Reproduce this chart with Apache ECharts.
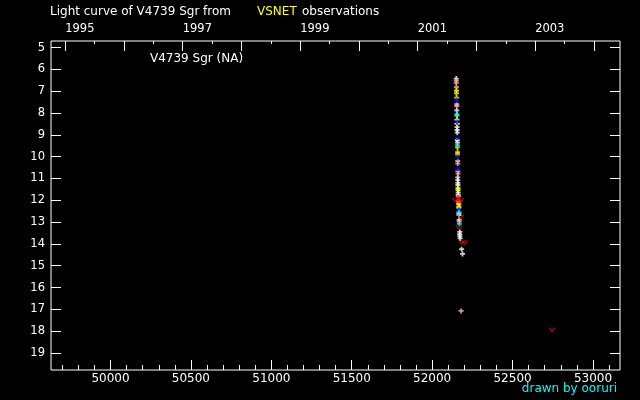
<!DOCTYPE html>
<html lang="en">
<head>
    <meta charset="UTF-8">
    <title>V4739 Sgr</title>
    <script src="https://cdn.jsdelivr.net/npm/echarts@6/dist/echarts.min.js"></script>
    <style>
        html, body { margin: 0; padding: 0; background: #000; }
    </style>
</head>
<body>
    <div id="main" style="width: 640px;height:400px;"></div>
    <script type="text/javascript">
        // JD - 2400000 , magnitude
        var whiteObs = [[52150, 6.42], [52153, 7.88], [52154, 8.3], [52155, 8.65], [52155, 8.78], [52156, 8.9],
            [52156, 9.25], [52157, 9.36], [52159, 10.95], [52159, 11.08], [52160, 11.2], [52160, 11.3],
            [52161, 11.55], [52162, 11.65], [52162, 11.75], [52165, 12.15], [52166, 12.6], [52167, 12.68],
            [52168, 12.9], [52172, 13.45], [52171, 13.55], [52172, 13.65], [52174, 13.75], [52183, 14.24], [52189, 14.46]];
        var pinkObs = [[52150, 6.52], [52150, 6.62], [52151, 6.82], [52153, 7.6], [52153, 7.68], [52156, 8.48],
            [52159, 10.2], [52159, 10.32], [52160, 10.68], [52161, 10.78], [52163, 11.82], [52165, 12.35],
            [52168, 12.98], [52180, 17.07]];
        var yellowObs = [[52151, 6.98], [52151, 7.1], [52152, 7.3], [52154, 8.12], [52155, 8.5], [52157, 9.58],
            [52158, 9.8], [52158, 9.9], [52160, 11.42], [52161, 11.48], [52164, 12.05], [52166, 12.2], [52166, 12.3]];
        var blueObs = [[52152, 7.42], [52155, 8.42], [52156, 9.12], [52158, 10.02], [52159, 10.55], [52166, 12.45]];
        var cyanObs = [[52154, 8.05], [52157, 9.47], [52167, 12.55], [52169, 13.08]];
        var redObs = [[52161, 11.88], [52165, 12.02]];
        // fainter-than observations
        var redLimits = [[52144, 12.0], [52178, 12.02], [52178, 12.78], [52165, 13.25],
            [52184, 13.95], [52203, 13.95], [52745, 17.95]];

        var dayLabels = [50000, 50500, 51000, 51500, 52000, 52500, 53000];
        var yearTicks = [1995, 1996, 1997, 1998, 1999, 2000, 2001, 2002, 2003, 2004];
        var yearLabels = [1995, 1997, 1999, 2001, 2003];
        var magTicks = [5, 6, 7, 8, 9, 10, 11, 12, 13, 14, 15, 16, 17, 18, 19];

        var dayMin = 49630, dayMax = 53168;
        // 1995-01-01 = JD 2449718.5
        function toYear(d) { return 1995 + (d - 49718.5) / 365.25; }
        var dayMinor = [];
        for (var d = 49700; d <= 53100; d += 100) dayMinor.push(d);
        var yearMinor = [];
        for (var i = 0; i < yearTicks.length - 1; i++) yearMinor.push(yearTicks[i] + 0.5);

        var font = '"DejaVu Sans", sans-serif';
        var cross = 'path://M1.6,0L3.4,0L3.4,1.6L5,1.6L5,3.4L3.4,3.4L3.4,5L1.6,5L1.6,3.4L0,3.4L0,1.6L1.6,1.6Z';
        var vee = 'path://M0,0L1.4,0L3.5,3L5.6,0L7,0L3.5,5Z';

        function plain(v) { return String(v); }

        function obs(data, color, sym, size) {
            return {
                type: 'scatter', data: data, symbol: sym, symbolSize: size,
                itemStyle: {color: color}, silent: true, animation: false
            };
        }

        var myChart = echarts.init(document.getElementById('main'));
        var option = {
            backgroundColor: '#000',
            animation: false,
            grid: {
                left: 51, top: 41, width: 569, height: 329,
                show: true, borderColor: '#fff', borderWidth: 1
            },
            graphic: [
                {type: 'text', left: 50, top: 6, style: {text: 'Light curve of V4739 Sgr from', fill: '#fff', font: '12px ' + font}},
                {type: 'text', left: 257, top: 6, style: {text: 'VSNET', fill: '#ffff00', font: '12px ' + font}},
                {type: 'text', left: 302, top: 6, style: {text: 'observations', fill: '#fff', font: '12px ' + font}},
                {type: 'text', left: 150, top: 53, style: {text: 'V4739 Sgr (NA)', fill: '#fff', font: '12px ' + font}},
                {type: 'text', right: 23, top: 383, style: {text: 'drawn by ooruri', fill: '#00ffff', font: '12px ' + font}}
            ],
            xAxis: [
                { // JD ticks
                    type: 'value', position: 'bottom', min: dayMin, max: dayMax,
                    axisLine: {show: false, onZero: false}, splitLine: {show: false},
                    axisTick: {inside: true, length: 10, customValues: dayLabels, lineStyle: {color: '#fff'}},
                    axisLabel: {customValues: dayLabels, color: '#fff', fontSize: 12, fontFamily: font,
                        margin: 3, formatter: plain}
                },
                {
                    type: 'value', position: 'bottom', min: dayMin, max: dayMax,
                    axisLine: {show: false, onZero: false}, splitLine: {show: false},
                    axisTick: {inside: true, length: 5, customValues: dayMinor, lineStyle: {color: '#fff'}},
                    axisLabel: {show: false}
                },
                { // calendar years
                    type: 'value', position: 'top', min: toYear(dayMin), max: toYear(dayMax),
                    axisLine: {show: false, onZero: false}, splitLine: {show: false},
                    axisTick: {inside: true, length: 10, customValues: yearTicks, lineStyle: {color: '#fff'}},
                    axisLabel: {customValues: yearLabels, color: '#fff', fontSize: 11.5, fontFamily: font,
                        margin: 6, align: 'left', formatter: plain}
                },
                {
                    type: 'value', position: 'top', min: toYear(dayMin), max: toYear(dayMax),
                    axisLine: {show: false, onZero: false}, splitLine: {show: false},
                    axisTick: {inside: true, length: 3, customValues: yearMinor, lineStyle: {color: '#fff'}},
                    axisLabel: {show: false}
                }
            ],
            yAxis: [
                {
                    type: 'value', position: 'left', inverse: true, min: 4.7, max: 19.78,
                    axisLine: {show: false, onZero: false}, splitLine: {show: false},
                    axisTick: {inside: true, length: 10, customValues: magTicks, lineStyle: {color: '#fff'}},
                    axisLabel: {customValues: magTicks, color: '#fff', fontSize: 11.5, fontFamily: font, margin: 6}
                },
                {
                    type: 'value', position: 'right', inverse: true, min: 4.7, max: 19.78,
                    axisLine: {show: false, onZero: false}, splitLine: {show: false},
                    axisTick: {inside: true, length: 10, customValues: magTicks, lineStyle: {color: '#fff'}},
                    axisLabel: {show: false}
                }
            ],
            series: [
                obs(whiteObs, '#ffffff', cross, 5),
                obs(pinkObs, '#ffb4b4', cross, 5),
                obs(yellowObs, '#ffff00', cross, 5),
                obs(blueObs, '#0000ff', cross, 5),
                obs(cyanObs, '#00ffff', cross, 5),
                obs(redObs, '#ff0000', cross, 5),
                obs(redLimits, '#ff0000', vee, [7, 5])
            ]
        };

        myChart.setOption(option);
    </script>
</body>
</html>
